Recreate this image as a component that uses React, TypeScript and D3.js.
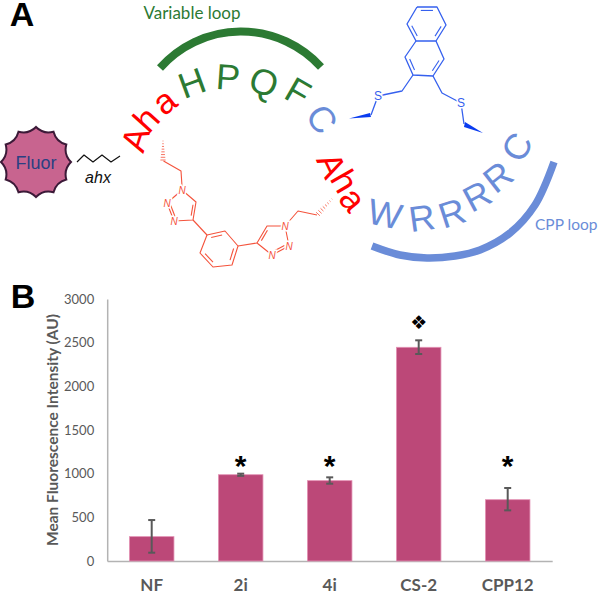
import React, { useEffect, useRef } from 'react';
import * as d3 from 'd3';

type Pt = [number, number];

// panel B values
const categories = ['NF', '2i', '4i', 'CS-2', 'CPP12'];
const means = [279, 988, 920, 2447, 702];
const errLow = [95, 975, 885, 2370, 580];
const errHigh = [469, 1000, 958, 2527, 836];
const markers = ['', '*', '*', '❖', '*'];
const yTicks = [0, 500, 1000, 1500, 2000, 2500, 3000];

// panel A peptide letters: text, x, y, rotation, font size
const greenLetters: [string, number, number, number, number][] = [
  ['H', 192, 83, -20, 36],
  ['P', 228, 77, 4, 36],
  ['Q', 264, 82, 20, 36],
  ['F', 298, 92, 30, 36],
];
const blueLetters: [string, number, number, number, number][] = [
  ['C', 322, 119, 55, 36],
  ['W', 385, 214, 12, 36],
  ['R', 422, 218, -8, 36],
  ['R', 452, 213, -18, 36],
  ['R', 477, 196, -28, 36],
  ['R', 498, 177, -38, 36],
  ['C', 517, 147, -60, 36],
];
const redLetters: [string, number, number, number, number][] = [
  ['A', 135, 139, -72, 35],
  ['h', 146, 119, -48, 35],
  ['a', 164, 101, -38, 35],
  ['A', 332, 165, 65, 35],
  ['h', 345, 181, 60, 35],
  ['a', 353, 199, 50, 35],
];

// linker drawings
const blueArcPts: Pt[] = [[372, 246], [400, 255], [427, 258], [455, 256], [480, 250], [510, 233], [535, 205], [554, 162]];
const zigzag: Pt[] = [[77, 162], [84, 155], [93, 162], [102, 155], [111, 162], [120, 156]];
const phenyl: Pt[] = [[207, 235], [225, 231], [238, 246], [232, 265], [213, 267], [200, 253]];
const ringTop: Pt[] = [[417, 7], [437, 7], [446, 25], [436, 41], [416, 41], [407, 24]];
const ringLow: Pt[] = [[436, 41], [444, 59], [433, 76], [413, 75], [405, 57], [416, 41]];

const RED = '#f4533c';
const BLUE = '#3560ee';
const PALE = '#6a8cd8';
const GREEN = '#2c7a33';
const GREY = '#595959';

const App: React.FC = () => {
  const svgRef = useRef<SVGSVGElement>(null);

  useEffect(() => {
    const svg = d3.select(svgRef.current);
    svg.selectAll('*').remove();

    const sans = 'Liberation Sans, sans-serif';
    const label = 'Lato, sans-serif';
    const line = d3.line();

    const stroke = (g: any, pts: Pt[], color: string, w = 1.1) =>
      g.append('path').attr('d', line(pts)).attr('fill', 'none').attr('stroke', color)
        .attr('stroke-width', w).attr('stroke-linejoin', 'round');

    // short line inside a ring, for the double bonds
    const inner = (g: any, a: Pt, b: Pt, c: Pt, color: string) => {
      const f = 0.2;
      const s = (p: Pt): Pt => [p[0] + (c[0] - p[0]) * f, p[1] + (c[1] - p[1]) * f];
      const a2 = s(a), b2 = s(b);
      const t = 0.12;
      stroke(g, [
        [a2[0] + (b2[0] - a2[0]) * t, a2[1] + (b2[1] - a2[1]) * t],
        [b2[0] + (a2[0] - b2[0]) * t, b2[1] + (a2[1] - b2[1]) * t],
      ], color);
    };
    const centre = (r: Pt[]): Pt => [d3.mean(r, p => p[0])!, d3.mean(r, p => p[1])!];

    const atom = (g: any, t: string, p: Pt, color: string, italic = true, size = 10) =>
      g.append('text').attr('x', p[0]).attr('y', p[1]).attr('text-anchor', 'middle')
        .attr('dominant-baseline', 'central').attr('fill', color)
        .attr('stroke', '#fff').attr('stroke-width', 3).attr('paint-order', 'stroke')
        .style('font-family', sans).style('font-size', `${size}px`)
        .style('font-style', italic ? 'italic' : 'normal').text(t);

    const hashed = (g: any, a: Pt, b: Pt, n: number, color: string) => {
      const dx = b[0] - a[0], dy = b[1] - a[1];
      const len = Math.hypot(dx, dy);
      d3.range(n).forEach(i => {
        const t = i / (n - 1);
        const half = 0.4 + t * 2.2;
        const x = a[0] + dx * t, y = a[1] + dy * t;
        stroke(g, [[x - (dy / len) * half, y + (dx / len) * half], [x + (dy / len) * half, y - (dx / len) * half]], color, 0.8);
      });
    };

    const letters = (rows: [string, number, number, number, number][], color: string) =>
      rows.forEach(([t, x, y, r, fs]) => {
        svg.append('text').attr('transform', `translate(${x},${y}) rotate(${r})`)
          .attr('text-anchor', 'middle').attr('dominant-baseline', 'central')
          .attr('fill', color).style('font-family', sans).style('font-size', `${fs}px`).text(t);
      });

    // panel letters
    [['A', 22, 26], ['B', 23, 308]].forEach(([t, x, y]) => {
      svg.append('text').attr('x', x as number).attr('y', y as number).attr('text-anchor', 'middle')
        .attr('fill', '#000').style('font-family', sans).style('font-weight', 'bold')
        .style('font-size', '34px').text(t as string);
    });

    // Fluor badge
    const star = d3.path();
    const nPts = 12, cx = 36, cy = 162, rOut = 35, rIn = 28.5;
    d3.range(nPts).forEach(i => {
      const a = (i / nPts) * 2 * Math.PI - Math.PI / 2;
      const mid = a + Math.PI / nPts;
      const next = a + (2 * Math.PI) / nPts;
      if (i === 0) star.moveTo(cx + rOut * Math.cos(a), cy + rOut * Math.sin(a));
      star.quadraticCurveTo(cx + rIn * Math.cos(mid), cy + rIn * Math.sin(mid), cx + rOut * Math.cos(next), cy + rOut * Math.sin(next));
    });
    star.closePath();
    svg.append('path').attr('d', star.toString()).attr('fill', '#c8648f').attr('stroke', '#3c1a38').attr('stroke-width', 2);
    svg.append('text').attr('x', cx).attr('y', 169).attr('text-anchor', 'middle').attr('fill', '#2a4082')
      .style('font-family', sans).style('font-size', '18px').text('Fluor');

    stroke(svg, zigzag, '#111', 1.2);
    svg.append('text').attr('x', 98).attr('y', 183).attr('text-anchor', 'middle').attr('fill', '#111')
      .style('font-family', sans).style('font-style', 'italic').style('font-size', '16px').text('ahx');

    // loops
    svg.append('text').attr('x', 192).attr('y', 19).attr('text-anchor', 'middle').attr('fill', GREEN)
      .style('font-family', label).style('font-size', '17px').text('Variable loop');
    svg.append('path').attr('d', 'M160,68 A108,108 0 0 1 321,67').attr('fill', 'none').attr('stroke', GREEN).attr('stroke-width', 8);
    svg.append('path').attr('d', d3.line().curve(d3.curveCatmullRom)(blueArcPts)).attr('fill', 'none').attr('stroke', PALE).attr('stroke-width', 7.5);
    svg.append('text').attr('x', 535).attr('y', 230).attr('fill', PALE)
      .style('font-family', label).style('font-size', '15.5px').text('CPP loop');

    letters(greenLetters, GREEN);
    letters(blueLetters, PALE);
    letters(redLetters, '#ff0000');

    // triazole linker
    const red = svg.append('g');
    hashed(red, [163, 141], [163, 160], 8, RED);
    stroke(red, [[163.5, 161], [181, 171], [182, 186]], RED);
    const triL: Pt[] = [[182, 190], [196, 202], [193, 220], [174, 221], [167, 203]];
    stroke(red, [triL[0], triL[1], triL[2], triL[3], triL[4], triL[0]], RED);
    inner(red, triL[1], triL[2], centre(triL), RED);
    inner(red, triL[3], triL[4], centre(triL), RED);
    stroke(red, [triL[2], phenyl[0]], RED);
    stroke(red, [...phenyl, phenyl[0]], RED);
    inner(red, phenyl[0], phenyl[1], centre(phenyl), RED);
    inner(red, phenyl[2], phenyl[3], centre(phenyl), RED);
    inner(red, phenyl[4], phenyl[5], centre(phenyl), RED);
    const triR: Pt[] = [[257, 243], [267, 226], [285, 226], [289, 246], [272, 255]];
    stroke(red, [phenyl[2], triR[0]], RED);
    stroke(red, [...triR, triR[0]], RED);
    inner(red, triR[0], triR[1], centre(triR), RED);
    inner(red, triR[3], triR[4], centre(triR), RED);
    stroke(red, [triR[2], [298, 211], [317, 215]], RED);
    hashed(red, [332, 199], [318, 214], 8, RED);
    ([triL[0], triL[3], triL[4], triR[2], triR[3], triR[4]] as Pt[]).forEach(p => atom(red, 'N', p, RED));

    // naphthalene staple
    const blue = svg.append('g');
    stroke(blue, [...ringTop, ringTop[0]], BLUE, 1.3);
    stroke(blue, [...ringLow], BLUE, 1.3);
    inner(blue, ringTop[0], ringTop[1], centre(ringTop), BLUE);
    inner(blue, ringTop[2], ringTop[3], centre(ringTop), BLUE);
    inner(blue, ringTop[4], ringTop[5], centre(ringTop), BLUE);
    inner(blue, ringLow[1], ringLow[2], centre(ringLow), BLUE);
    inner(blue, ringLow[3], ringLow[4], centre(ringLow), BLUE);
    stroke(blue, [ringLow[3], [402, 91], [378, 96], [371, 115]], BLUE, 1.3);
    stroke(blue, [ringLow[2], [442, 93], [461, 103], [464, 124]], BLUE, 1.3);
    atom(blue, 'S', [378, 96], BLUE, false, 12);
    atom(blue, 'S', [461, 103], BLUE, false, 12);
    blue.append('path').attr('d', 'M349,118.5 L370,113 L371,117 Z').attr('fill', '#0a3cf0');
    blue.append('path').attr('d', 'M483,133 L465,122 L464,127 Z').attr('fill', '#0a3cf0');

    // panel B chart
    const x = d3.scaleBand().domain(categories).range([107.2, 552.2]).paddingInner(0.5).paddingOuter(0.25);
    const y = d3.scaleLinear().domain([0, 3000]).range([561, 299]);
    const chart = svg.append('g');

    const yAxis = d3.axisLeft(y).tickValues(yTicks).tickSize(0).tickPadding(13).tickFormat(d3.format('d') as any);
    const yG = chart.append('g').attr('transform', 'translate(107.2,0)').call(yAxis);
    yG.select('.domain').attr('stroke', '#b3b3b3').attr('stroke-width', 1.5);
    yG.selectAll('text').attr('fill', GREY).style('font-family', label).style('font-size', '13px');

    const xAxis = d3.axisBottom(x).tickSize(0).tickPadding(18);
    const xG = chart.append('g').attr('transform', 'translate(0,561)').call(xAxis);
    xG.select('.domain').attr('stroke', '#b3b3b3').attr('stroke-width', 1.5);
    xG.selectAll('text').attr('fill', GREY).style('font-family', label).style('font-weight', 'bold').style('font-size', '17px');

    chart.append('text').attr('transform', 'translate(58,430) rotate(-90)').attr('text-anchor', 'middle')
      .attr('fill', GREY).style('font-family', label).style('font-weight', 'bold').style('font-size', '15.5px')
      .text('Mean Fluorescence Intensity (AU)');

    categories.forEach((c, i) => {
      const left = x(c)!;
      const mid = left + x.bandwidth() / 2;
      chart.append('rect').attr('x', left).attr('y', y(means[i])).attr('width', x.bandwidth())
        .attr('height', y(0) - y(means[i])).attr('fill', '#bc4878').attr('stroke', '#e391b4').attr('stroke-width', 0.8);
      const capW = 3.5;
      stroke(chart, [[mid, y(errLow[i])], [mid, y(errHigh[i])]], GREY, 2);
      stroke(chart, [[mid - capW, y(errLow[i])], [mid + capW, y(errLow[i])]], GREY, 2);
      stroke(chart, [[mid - capW, y(errHigh[i])], [mid + capW, y(errHigh[i])]], GREY, 2);
      if (markers[i] === '*') {
        chart.append('text').attr('x', mid).attr('y', 476).attr('text-anchor', 'middle').attr('fill', '#000')
          .style('font-family', sans).style('font-weight', 'bold').style('font-size', '30px').text('*');
      } else if (markers[i]) {
        chart.append('text').attr('x', mid).attr('y', 329).attr('text-anchor', 'middle').attr('fill', '#000')
          .style('font-family', 'DejaVu Sans').style('font-size', '19px').text(markers[i]);
      }
    });
  }, []);

  return <svg ref={svgRef} width={600} height={595} viewBox="0 0 600 595" style={{ position: 'absolute', left: 0, top: 0, background: '#fff' }} />;
};

export default App;
